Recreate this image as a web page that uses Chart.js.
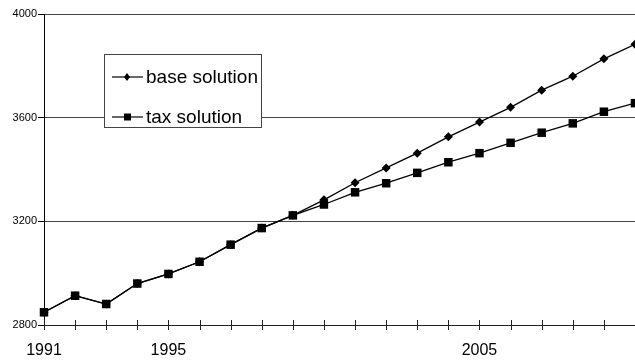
<!DOCTYPE html>
<html>
<head>
<meta charset="utf-8">
<script src="https://cdn.jsdelivr.net/npm/chart.js@4/dist/chart.umd.min.js"></script>
<style>
  html, body { margin: 0; padding: 0; background: #fff; }
  #wrap { position: relative; width: 635px; height: 362px; }
</style>
</head>
<body>
<div id="wrap"><canvas id="chart"></canvas></div>
<script>
// data
const years = ['1991','1992','1993','1994','1995','1996','1997','1998','1999','2000',
               '2001','2002','2003','2004','2005','2006','2007','2008','2009','2010'];
const baseSolution = [2849, 2913, 2881, 2960, 2997, 3044, 3110, 3174, 3223, 3283,
                      3349, 3406, 3463, 3526, 3583, 3640, 3706, 3760, 3827, 3883];
const taxSolution  = [2849, 2913, 2881, 2960, 2997, 3044, 3110, 3174, 3223, 3265,
                      3312, 3347, 3387, 3428, 3463, 3503, 3542, 3578, 3623, 3656];
const seriesNames = ['base solution', 'tax solution'];
const xTickLabels = ['1991', '1995', '2005'];
const yMin = 2800, yMax = 4000, yStep = 400;

const FONT = 'Arial, "Liberation Sans", sans-serif';

// the year ticks cross the x axis, so draw them by hand on both sides
const crossTicks = {
  id: 'crossTicks',
  afterDraw(chart) {
    const ctx = chart.ctx, xs = chart.scales.x, b = chart.chartArea.bottom;
    ctx.save();
    ctx.strokeStyle = '#222';
    ctx.lineWidth = 1;
    ctx.beginPath();
    xs.ticks.forEach((t, i) => {
      const x = Math.round(xs.getPixelForTick(i)) + 0.5;
      ctx.moveTo(x, b - 5);
      ctx.lineTo(x, b + 5);
    });
    ctx.stroke();
    ctx.restore();
  }
};

// boxed legend sitting inside the plot
const boxLegend = {
  id: 'boxLegend',
  afterDraw(chart) {
    const ctx = chart.ctx;
    ctx.save();
    ctx.fillStyle = '#fff';
    ctx.fillRect(104, 54, 158, 73);
    ctx.strokeStyle = '#444';
    ctx.lineWidth = 1;
    ctx.strokeRect(104.5, 54.5, 157, 73);

    const rows = [77, 117];
    chart.data.datasets.forEach((ds, i) => {
      const y = rows[i];
      ctx.strokeStyle = '#000';
      ctx.lineWidth = 1.2;
      ctx.beginPath();
      ctx.moveTo(112, y);
      ctx.lineTo(143, y);
      ctx.stroke();
      ctx.fillStyle = '#000';
      ctx.beginPath();
      if (ds.pointStyle === 'rectRot') {
        ctx.moveTo(127, y - 4);
        ctx.lineTo(130, y);
        ctx.lineTo(127, y + 4);
        ctx.lineTo(124, y);
        ctx.closePath();
        ctx.fill();
      } else {
        ctx.fillRect(124, y - 3.5, 7, 7);
      }
      ctx.font = '19px ' + FONT;
      ctx.textBaseline = 'middle';
      ctx.fillText(ds.label, 146, y + 1);
    });
    ctx.restore();
  }
};

new Chart(document.getElementById('chart'), {
  type: 'line',
  data: {
    labels: years,
    datasets: [
      {
        label: seriesNames[0],
        data: baseSolution,
        borderColor: '#000',
        backgroundColor: '#000',
        borderWidth: 1.3,
        pointStyle: 'rectRot',
        pointRadius: 4.5,
        pointBorderWidth: 0,
        tension: 0
      },
      {
        label: seriesNames[1],
        data: taxSolution,
        borderColor: '#000',
        backgroundColor: '#000',
        borderWidth: 1.3,
        pointStyle: 'rect',
        pointRadius: 6,
        pointBorderWidth: 0,
        tension: 0
      }
    ]
  },
  options: {
    responsive: true,
    maintainAspectRatio: false,
    animation: false,
    layout: { autoPadding: false, padding: { top: 14, right: 0, left: 0, bottom: 0 } },
    plugins: {
      legend: { display: false },
      tooltip: { enabled: false }
    },
    scales: {
      x: {
        type: 'category',
        offset: false,
        afterFit: s => { s.height = 37; },
        grid: {
          drawOnChartArea: false,
          drawTicks: true,
          tickLength: 16,
          tickColor: 'rgba(0,0,0,0)',
          offset: false
        },
        border: { color: '#222', width: 1 },
        ticks: {
          autoSkip: false,
          maxRotation: 0,
          padding: 0,
          color: '#000',
          font: { family: FONT, size: 16 },
          callback: function (v) {
            const lab = this.getLabelForValue(v);
            return xTickLabels.includes(lab) ? lab : '';
          }
        }
      },
      y: {
        min: yMin,
        max: yMax,
        afterFit: s => { s.width = 44; },
        grid: {
          color: '#444',
          lineWidth: 1,
          drawTicks: true,
          tickLength: 6,
          tickColor: '#000'
        },
        border: { color: '#000', width: 1 },
        ticks: {
          stepSize: yStep,
          padding: 1,
          color: '#000',
          font: { family: FONT, size: 11 },
          callback: v => String(v)
        }
      }
    }
  },
  plugins: [crossTicks, boxLegend]
});
</script>
</body>
</html>
